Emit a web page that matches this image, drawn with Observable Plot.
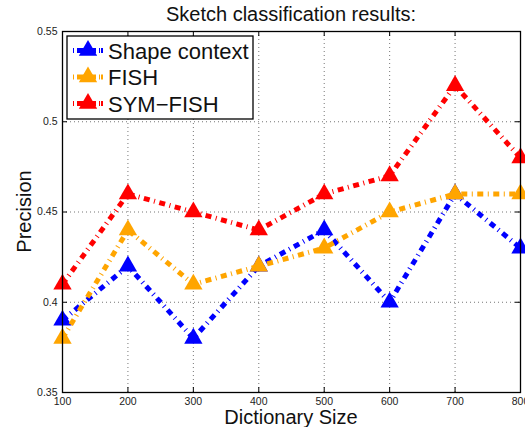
<!DOCTYPE html>
<html><head><meta charset="utf-8">
<script src="https://cdn.jsdelivr.net/npm/d3@7"></script>
<script src="https://cdn.jsdelivr.net/npm/@observablehq/plot@0.6"></script>
<style>
body{margin:0;background:#fff}
svg{font-family:"Liberation Sans",Arial,Helvetica,sans-serif}
</style>
</head><body><div id="chart"></div>
<script>
const dictSizes = [100, 200, 300, 400, 500, 600, 700, 800];
const shapeContext = [0.39, 0.42, 0.38, 0.42, 0.44, 0.40, 0.46, 0.43];
const fish = [0.38, 0.44, 0.41, 0.42, 0.43, 0.45, 0.46, 0.46];
const symFish = [0.41, 0.46, 0.45, 0.44, 0.46, 0.47, 0.52, 0.48];
const seriesNames = ["Shape context", "FISH", "SYM\u2212FISH"];
const seriesColors = ["#0000ff", "#ffa500", "#ff0000"];
const xTicks = [100, 200, 300, 400, 500, 600, 700, 800];
const yTicks = [0.35, 0.4, 0.45, 0.5, 0.55];
const yTickLabels = ["0.35", "0.4", "0.45", "0.5", "0.55"];
const titleText = "Sketch classification results:";
const xLabel = "Dictionary Size";
const yLabel = "Precision";

const seriesValues = [shapeContext, fish, symFish];
const series = seriesNames.map((name, s) => ({
  name, color: seriesColors[s],
  rows: dictSizes.map((x, i) => ({x, y: seriesValues[s][i]}))
}));

const W = 525, H = 427, mL = 62, mR = 5, mT = 31, mB = 35;
const fw = W - mL - mR, fh = H - mT - mB;
const dash = "6,4.5,1,4.5";

const marks = [
  Plot.gridX(xTicks.slice(1, -1), {stroke: "#666", strokeOpacity: 0.9, strokeDasharray: "1,3"}),
  Plot.gridY(yTicks.slice(1, -1), {stroke: "#666", strokeOpacity: 0.9, strokeDasharray: "1,3"}),
  Plot.tickX(xTicks, {x: d => d, insetTop: fh - 5, stroke: "black"}),
  Plot.tickX(xTicks, {x: d => d, insetBottom: fh - 5, stroke: "black"}),
  Plot.tickY(yTicks, {y: d => d, insetRight: fw - 5, stroke: "black"}),
  Plot.tickY(yTicks, {y: d => d, insetLeft: fw - 5, stroke: "black"}),
  Plot.axisX(xTicks, {tickSize: 0, tickPadding: 5, fontSize: 10.5, label: null, fill: "#222"}),
  Plot.axisY(yTicks, {tickSize: 0, tickPadding: 5, fontSize: 10.5, label: null, fill: "#222",
    tickFormat: d => yTickLabels[yTicks.indexOf(d)]})
];
for (const s of series) {
  marks.push(Plot.line(s.rows, {x: "x", y: "y", stroke: s.color, strokeWidth: 5,
    strokeDasharray: dash, strokeLinecap: "butt", strokeLinejoin: "miter"}));
  marks.push(Plot.dot(s.rows, {x: "x", y: "y", symbol: "triangle", r: 6.8, fill: s.color, stroke: "none"}));
}
marks.push(Plot.frame({stroke: "black", strokeWidth: 1.3}));

const chart = Plot.plot({
  width: W, height: H,
  marginLeft: mL, marginRight: mR, marginTop: mT, marginBottom: mB,
  x: {domain: [100, 800]},
  y: {domain: [0.35, 0.55]},
  style: {background: "white", fontFamily: "Liberation Sans, Arial, sans-serif"},
  marks
});

const svg = d3.select(chart);
const cx = mL + fw / 2;
svg.append("text").attr("x", cx).attr("y", 21).attr("text-anchor", "middle")
  .attr("font-size", 20).attr("fill", "#111").text(titleText);
svg.append("text").attr("x", cx).attr("y", 424).attr("text-anchor", "middle")
  .attr("font-size", 20).attr("fill", "#111").text(xLabel);
svg.append("text").attr("transform", `translate(31,${mT + fh / 2}) rotate(-90)`)
  .attr("text-anchor", "middle").attr("font-size", 20).attr("fill", "#111").text(yLabel);

// legend
const lg = svg.append("g");
lg.append("rect").attr("x", 67).attr("y", 36).attr("width", 186).attr("height", 83)
  .attr("fill", "white").attr("stroke", "black").attr("stroke-width", 1.3);
const rowY = [50.5, 77, 103.5];
series.forEach((s, i) => {
  const y = rowY[i];
  lg.append("line").attr("x1", 73).attr("x2", 103).attr("y1", y).attr("y2", y)
    .attr("stroke", s.color).attr("stroke-width", 5).attr("stroke-dasharray", "1,3,8,3,8,3,1");
  lg.append("path").attr("transform", `translate(88,${y})`)
    .attr("d", d3.symbol(d3.symbolTriangle, Math.PI * 6.8 * 6.8)()).attr("fill", s.color);
  lg.append("text").attr("x", 108).attr("y", y + 8).attr("text-anchor", "start")
    .attr("font-size", 22).attr("fill", "#111").text(s.name);
});

document.getElementById("chart").appendChild(chart);
</script>
</body></html>
